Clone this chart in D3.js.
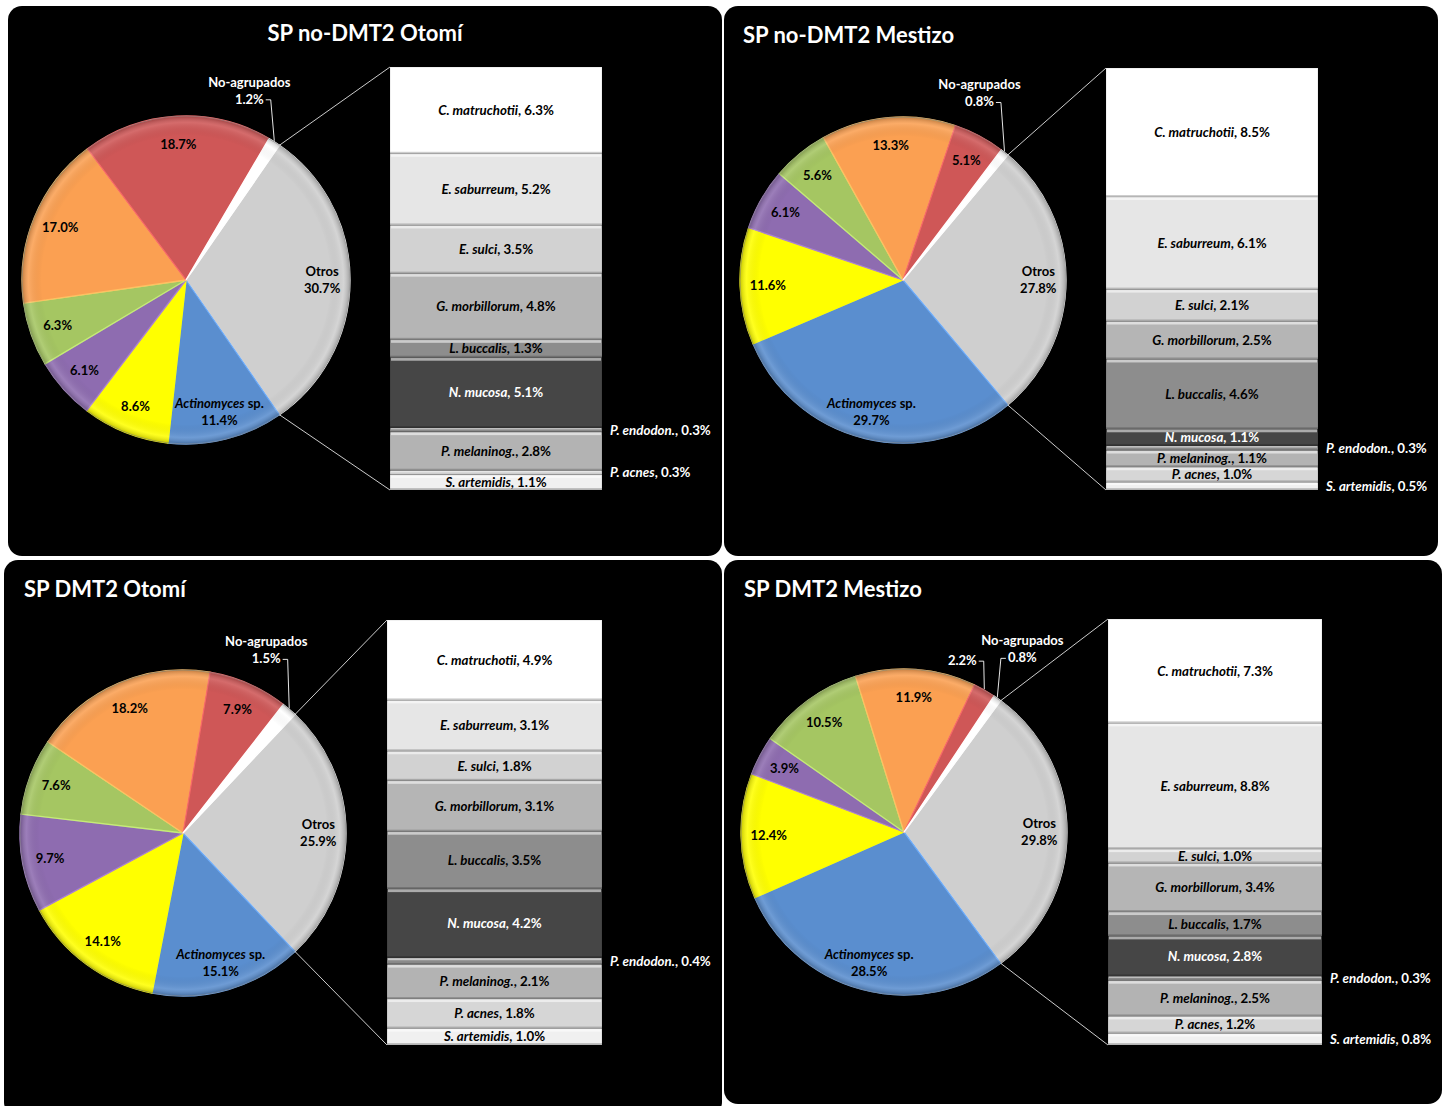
<!DOCTYPE html>
<html>
<head>
<meta charset="utf-8">
<script src="https://cdn.jsdelivr.net/npm/d3@7"></script>
<style>
body { margin: 0; background: #fff; }
text { font-family: Lato, "Open Sans", sans-serif; font-weight: bold; }
</style>
</head>
<body>
<div id="chart"></div>
<script>
// pie slices, clockwise starting at "Otros"
var pieKeys = ["Otros", "Actinomyces sp.", "amarillo", "morado", "verde", "naranja", "rojo", "No-agrupados"];
var pieColors = ["#cfcfcf", "#5a8ecf", "#ffff00", "#8e6cb0", "#a5c662", "#fba052", "#cf5757", "#ffffff"];
var pieNoDmt2Otomi = [30.7, 11.4, 8.6, 6.1, 6.3, 17.0, 18.7, 1.2];
var pieNoDmt2Mestizo = [27.8, 29.7, 11.6, 6.1, 5.6, 13.3, 5.1, 0.8];
var pieDmt2Otomi = [25.9, 15.1, 14.1, 9.7, 7.6, 18.2, 7.9, 1.5];
var pieDmt2Mestizo = [29.8, 28.5, 12.4, 3.9, 10.5, 11.9, 2.2, 0.8];

// "Otros" broken down in the bar, top to bottom
var barSpecies = ["C. matruchotii", "E. saburreum", "E. sulci", "G. morbillorum", "L. buccalis",
    "N. mucosa", "P. endodon.", "P. melaninog.", "P. acnes", "S. artemidis"];
var barColors = ["#ffffff", "#e6e6e6", "#d2d2d2", "#b5b5b5", "#8d8d8d", "#464646", "#8a8a8a", "#b3b3b3", "#d6d6d6", "#f0f0f0"];
var barNoDmt2Otomi = [6.3, 5.2, 3.5, 4.8, 1.3, 5.1, 0.3, 2.8, 0.3, 1.1];
var barNoDmt2Mestizo = [8.5, 6.1, 2.1, 2.5, 4.6, 1.1, 0.3, 1.1, 1.0, 0.5];
var barDmt2Otomi = [4.9, 3.1, 1.8, 3.1, 3.5, 4.2, 0.4, 2.1, 1.8, 1.0];
var barDmt2Mestizo = [7.3, 8.8, 1.0, 3.4, 1.7, 2.8, 0.3, 2.5, 1.2, 0.8];

var titles = ["SP no-DMT2 Otomí", "SP no-DMT2 Mestizo", "SP DMT2 Otomí", "SP DMT2 Mestizo"];

var panels = [
    { title: titles[0], pie: pieNoDmt2Otomi, bar: barNoDmt2Otomi,
      box: [8, 6, 714, 550], titleX: 365, titleY: 41, anchor: "middle",
      cx: 186, cy: 280, r: 164, barBox: [390, 67, 212, 423],
      callouts: { 7: [-25, -38] } },
    { title: titles[1], pie: pieNoDmt2Mestizo, bar: barNoDmt2Mestizo,
      box: [724, 6, 714, 550], titleX: 743, titleY: 43, anchor: "start",
      cx: 903, cy: 280, r: 163, barBox: [1106, 68, 212, 422],
      callouts: { 7: [-25, -46] } },
    { title: titles[2], pie: pieDmt2Otomi, bar: barDmt2Otomi,
      box: [4, 560, 718, 556], titleX: 24, titleY: 597, anchor: "start",
      cx: 183, cy: 833, r: 163, barBox: [387, 620, 215, 425],
      callouts: { 7: [-23, -46] } },
    { title: titles[3], pie: pieDmt2Mestizo, bar: barDmt2Mestizo,
      box: [724, 560, 718, 544], titleX: 744, titleY: 597, anchor: "start",
      cx: 904, cy: 832, r: 163, barBox: [1108, 619, 214, 426],
      callouts: { 6: [-22, -25], 7: [25, -36] } }
];

var fmt = function (v) { return d3.format(".1f")(v) + "%"; };

var svg = d3.select("#chart").append("svg")
    .attr("width", 1446)
    .attr("height", 1106);

var defs = svg.append("defs");
var rim = defs.append("radialGradient").attr("id", "rim");
rim.append("stop").attr("offset", "0.88").attr("stop-color", "#000").attr("stop-opacity", 0);
rim.append("stop").attr("offset", "0.96").attr("stop-color", "#fff").attr("stop-opacity", 0.12);
rim.append("stop").attr("offset", "1").attr("stop-color", "#000").attr("stop-opacity", 0.22);

panels.forEach(drawPanel);

function drawPanel(p) {
    var g = svg.append("g");

    g.append("rect")
        .attr("x", p.box[0]).attr("y", p.box[1])
        .attr("width", p.box[2]).attr("height", p.box[3])
        .attr("rx", 14)
        .attr("fill", "#000");

    g.append("text")
        .attr("x", p.titleX).attr("y", p.titleY)
        .attr("text-anchor", p.anchor)
        .attr("fill", "#fff")
        .style("font-size", "22px")
        .text(p.title);

    // pie, rotated so that "Otros" is centred on the right
    var total = d3.sum(p.pie);
    var otrosAngle = p.pie[0] / total * 2 * Math.PI;
    var start = Math.PI / 2 - otrosAngle / 2;
    var pie = d3.pie().sort(null).value(function (d) { return d.value; })
        .startAngle(start).endAngle(start + 2 * Math.PI);
    var slices = pie(pieKeys.map(function (k, i) {
        return { key: k, value: p.pie[i], color: pieColors[i], index: i };
    }));
    var arc = d3.arc().innerRadius(0).outerRadius(p.r);

    var pg = g.append("g").attr("transform", "translate(" + p.cx + "," + p.cy + ")");

    pg.selectAll("path.slice")
        .data(slices)
        .join("path")
        .attr("class", "slice")
        .attr("d", arc)
        .attr("fill", function (d) { return d.data.color; })
        .attr("stroke", function (d) { return d3.color(d.data.color).brighter(0.5); })
        .attr("stroke-width", 1.3)
        .attr("stroke-linejoin", "round");

    pg.append("circle").attr("r", p.r).attr("fill", "url(#rim)").attr("pointer-events", "none");
    pg.append("circle").attr("r", p.r).attr("fill", "none").attr("stroke", "#777").attr("stroke-opacity", 0.6);

    function edge(a, rr) {
        return [rr * Math.sin(a), -rr * Math.cos(a)];
    }

    // inside labels
    slices.forEach(function (d) {
        if (p.callouts[d.data.index]) return;
        var mid = (d.startAngle + d.endAngle) / 2;
        var pos = edge(mid, p.r * 0.83);
        var t = pg.append("text")
            .attr("text-anchor", "middle")
            .attr("fill", "#000")
            .style("font-size", "13px");
        if (d.data.key === "Otros" || d.data.key === "Actinomyces sp.") {
            var l1 = t.append("tspan").attr("x", pos[0]).attr("y", pos[1] - 4);
            if (d.data.key === "Otros") {
                l1.text("Otros");
            } else {
                l1.append("tspan").style("font-style", "italic").text("Actinomyces");
                l1.append("tspan").text(" sp.");
            }
            t.append("tspan").attr("x", pos[0]).attr("y", pos[1] + 13).text(fmt(d.data.value));
        } else {
            t.attr("x", pos[0]).attr("y", pos[1] + 4.5).text(fmt(d.data.value));
        }
    });

    // callout labels for small slices
    Object.keys(p.callouts).forEach(function (k) {
        var d = slices[+k];
        var off = p.callouts[k];
        var mid = (d.startAngle + d.endAngle) / 2;
        var pt = edge(mid, p.r);
        var lx = pt[0] + off[0], ly = pt[1] + off[1];
        var pct = pg.append("text")
            .attr("x", lx).attr("y", ly)
            .attr("text-anchor", "middle")
            .attr("fill", "#fff")
            .style("font-size", "13px")
            .text(fmt(d.data.value));
        if (d.data.key === "No-agrupados") {
            pg.append("text")
                .attr("x", lx).attr("y", ly - 17)
                .attr("text-anchor", "middle")
                .attr("fill", "#fff")
                .style("font-size", "13px")
                .text("No-agrupados");
        }
        var w = pct.node().getComputedTextLength();
        var side = off[0] < 0 ? 1 : -1;
        var sx = lx + side * (w / 2 + 2);
        pg.append("polyline")
            .attr("points", [[sx, ly - 4], [sx + side * 5, ly - 4], [pt[0], pt[1] - 1]].join(" "))
            .attr("fill", "none")
            .attr("stroke", "#fff")
            .attr("stroke-width", 0.9);
    });

    // bar of "Otros"
    var bx = p.barBox[0], bw = p.barBox[2];
    var y = d3.scaleLinear()
        .domain([0, d3.sum(p.bar)])
        .range([p.barBox[1], p.barBox[1] + p.barBox[3]]);
    var cum = [0].concat(Array.from(d3.cumsum(p.bar)));
    var segs = barSpecies.map(function (s, i) {
        return { name: s, value: p.bar[i], color: barColors[i], y0: y(cum[i]), y1: y(cum[i + 1]) };
    });

    // connector lines
    var a0 = edge(slices[0].startAngle, p.r), a1 = edge(slices[0].endAngle, p.r);
    g.append("line")
        .attr("x1", p.cx + a0[0]).attr("y1", p.cy + a0[1])
        .attr("x2", bx).attr("y2", y.range()[0])
        .attr("stroke", "#fff").attr("stroke-width", 0.8);
    g.append("line")
        .attr("x1", p.cx + a1[0]).attr("y1", p.cy + a1[1])
        .attr("x2", bx).attr("y2", y.range()[1])
        .attr("stroke", "#fff").attr("stroke-width", 0.8);

    var sg = g.selectAll("g.seg").data(segs).join("g").attr("class", "seg");
    sg.append("rect")
        .attr("x", bx).attr("y", function (d) { return d.y0; })
        .attr("width", bw).attr("height", function (d) { return d.y1 - d.y0; })
        .attr("fill", function (d) { return d.color; });
    // bevel: light top edge, dark bottom edge
    sg.append("rect")
        .attr("x", bx + 1).attr("y", function (d) { return d.y0; })
        .attr("width", bw - 2).attr("height", function (d) { return Math.min(3, (d.y1 - d.y0) / 3); })
        .attr("fill", "#fff").attr("fill-opacity", 0.55);
    sg.append("rect")
        .attr("x", bx).attr("y", function (d) { return d.y1 - Math.min(2, (d.y1 - d.y0) / 4); })
        .attr("width", bw).attr("height", function (d) { return Math.min(2, (d.y1 - d.y0) / 4); })
        .attr("fill", "#000").attr("fill-opacity", 0.2);
    sg.append("rect")
        .attr("x", bx).attr("y", function (d) { return d.y0; })
        .attr("width", bw).attr("height", function (d) { return d.y1 - d.y0; })
        .attr("fill", "none").attr("stroke", "#000").attr("stroke-opacity", 0.12);

    sg.each(function (d) {
        var inside = d.value >= 0.9;
        var t = d3.select(this).append("text")
            .attr("y", (d.y0 + d.y1) / 2 + 4.5)
            .style("font-size", "13.3px");
        if (inside) {
            t.attr("x", bx + bw / 2).attr("text-anchor", "middle")
                .attr("fill", d.name === "N. mucosa" ? "#fff" : "#000");
        } else {
            t.attr("x", bx + bw + 8).attr("text-anchor", "start").attr("fill", "#fff");
        }
        t.append("tspan").style("font-style", "italic").text(d.name);
        t.append("tspan").text(", " + fmt(d.value));
    });
}
</script>
</body>
</html>
